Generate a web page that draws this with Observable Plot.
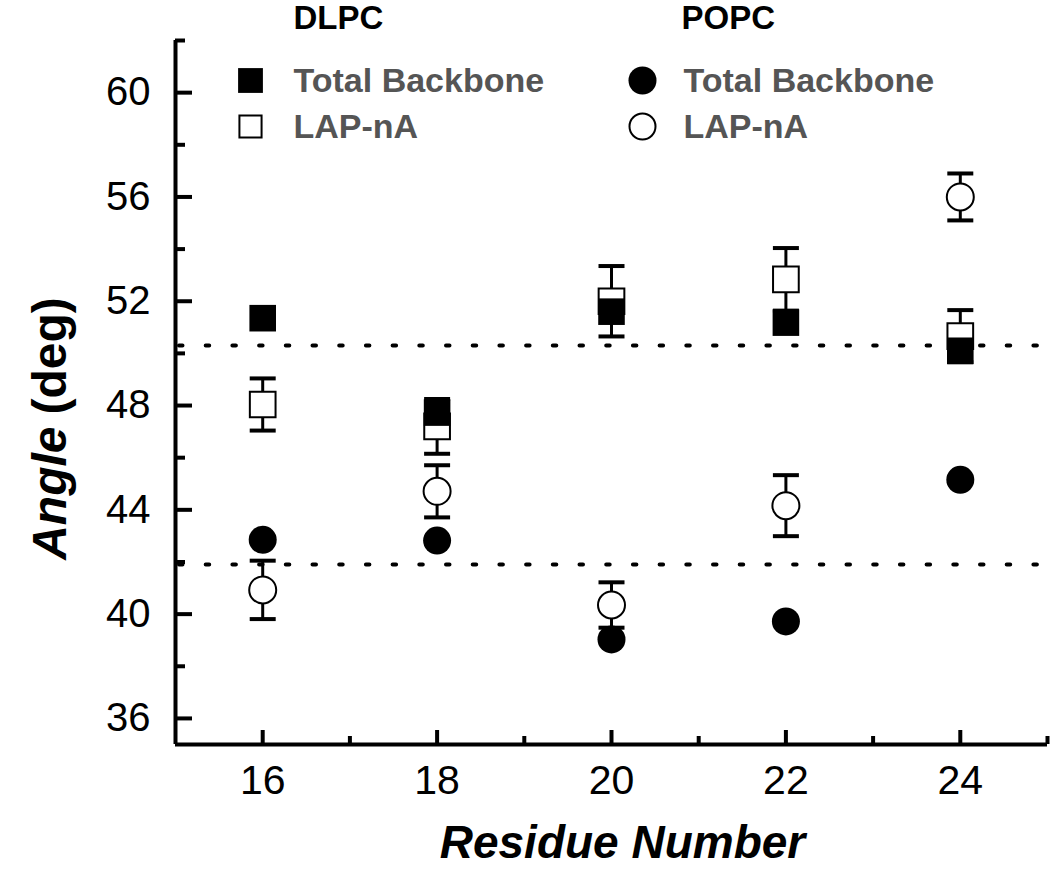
<!DOCTYPE html>
<html>
<head>
<meta charset="utf-8">
<script src="https://cdn.jsdelivr.net/npm/d3@7"></script>
<script src="https://cdn.jsdelivr.net/npm/@observablehq/plot@0.6"></script>
<style>
  html, body { margin: 0; padding: 0; background: #fff; }
  #chart { width: 1050px; height: 869px; }
</style>
</head>
<body>
<div id="chart"></div>
<script>
// ---- data ----
const residues      = [16, 18, 20, 22, 24];
const dlpcTotal     = [51.35, 47.73, 51.6, 51.18, 50.1];
const dlpcLap       = [48.04, 47.2, 52.0, 52.84, 50.66];
const dlpcLapErr    = [1.0, 1.05, 1.35, 1.2, 1.0];
const popcTotal     = [42.85, 42.82, 39.03, 39.72, 45.15];
const popcLap       = [40.93, 44.71, 40.35, 44.16, 56.0];
const popcLapErr    = [1.12, 1.0, 0.87, 1.17, 0.9];
const refLines      = [50.3, 41.9];
const yMajorTicks   = [36, 40, 44, 48, 52, 56, 60];
const yMinorTicks   = [38, 42, 46, 50, 54, 58, 62];
const xMajorTicks   = [16, 18, 20, 22, 24];
const xMinorTicks   = [17, 19, 21, 23, 25];
const xDomain       = [15, 25];
const yDomain       = [35, 62];
const groupTitles   = ["DLPC", "POPC"];
const seriesLabels  = ["Total Backbone", "LAP-nA"];

// ---- tables ----
const rows = (vals, errs) => residues.map((r, i) => ({
  x: r, y: vals[i], lo: errs ? vals[i] - errs[i] : null, hi: errs ? vals[i] + errs[i] : null
}));
const dTot = rows(dlpcTotal), dLap = rows(dlpcLap, dlpcLapErr);
const pTot = rows(popcTotal), pLap = rows(popcLap, popcLapErr);

const capSymbol = {
  draw(ctx, size) {
    const w = Math.sqrt(size / Math.PI);
    ctx.moveTo(-w, 0); ctx.lineTo(w, 0);
  }
};

const FONT = "Liberation Sans, Arial, Helvetica, sans-serif";
const errMarks = (data) => [
  Plot.ruleX(data, {x: "x", y1: "lo", y2: "hi", stroke: "black", strokeWidth: 3}),
  Plot.dot(data, {x: "x", y: "lo", symbol: capSymbol, r: 13, stroke: "black", strokeWidth: 4}),
  Plot.dot(data, {x: "x", y: "hi", symbol: capSymbol, r: 13, stroke: "black", strokeWidth: 4})
];

const legendText = (txt, dx, dy, opts = {}) => Plot.text([txt], {
  frameAnchor: "top-left", dx, dy, textAnchor: "start", lineAnchor: "middle", text: d => d,
  fontSize: 34, fontWeight: "bold", fill: "#555", ...opts
});

const chart = Plot.plot({
  width: 1050,
  height: 869,
  marginLeft: 175,
  marginRight: 3,
  marginTop: 40,
  marginBottom: 125,
  style: {fontFamily: FONT, fontSize: "40px", color: "black", background: "white", overflow: "visible"},
  x: {domain: xDomain, axis: null},
  y: {domain: yDomain, axis: null},
  marks: [
    // reference dotted lines
    Plot.ruleY(refLines, {stroke: "black", strokeWidth: 4, strokeDasharray: "3.5 23.2", strokeLinecap: "round", strokeDashoffset: -4}),
    // axes
    Plot.ruleX([xDomain[0]], {stroke: "black", strokeWidth: 4}),
    Plot.ruleY([yDomain[0]], {stroke: "black", strokeWidth: 4}),
    Plot.axisY({ticks: yMajorTicks, tickSize: -17, tickPadding: 42, strokeWidth: 4, fontSize: 40, label: null}),
    Plot.axisY({ticks: yMinorTicks, tickSize: -10, strokeWidth: 4, tickFormat: () => "", label: null}),
    Plot.axisX({ticks: xMajorTicks, tickSize: -14, tickPadding: 34, strokeWidth: 4, fontSize: 41, label: null}),
    Plot.axisX({ticks: xMinorTicks, tickSize: -8, strokeWidth: 4, tickFormat: () => "", label: null}),
    // LAP-nA (open) with error bars
    ...errMarks(dLap),
    ...errMarks(pLap),
    Plot.dot(dLap, {x: "x", y: "y", symbol: "square", r: 14.5, fill: "white", stroke: "black", strokeWidth: 2}),
    Plot.dot(pLap, {x: "x", y: "y", symbol: "circle", r: 13.5, fill: "white", stroke: "black", strokeWidth: 2}),
    // Total backbone (filled)
    Plot.dot(dTot, {x: "x", y: "y", symbol: "square", r: 15, fill: "black"}),
    Plot.dot(pTot, {x: "x", y: "y", symbol: "circle", r: 14, fill: "black"}),
    // legend
    legendText(groupTitles[0], 118, -22, {fontSize: 33, fill: "black"}),
    legendText(groupTitles[1], 506, -22, {fontSize: 33, fill: "black"}),
    Plot.dot([0], {frameAnchor: "top-left", dx: 75, dy: 40, symbol: "square", r: 14, fill: "black"}),
    Plot.dot([0], {frameAnchor: "top-left", dx: 75, dy: 86, symbol: "square", r: 12.5, fill: "white", stroke: "black", strokeWidth: 2}),
    Plot.dot([0], {frameAnchor: "top-left", dx: 467, dy: 40, symbol: "circle", r: 14, fill: "black"}),
    Plot.dot([0], {frameAnchor: "top-left", dx: 467, dy: 86, symbol: "circle", r: 13, fill: "white", stroke: "black", strokeWidth: 2}),
    legendText(seriesLabels[0], 118, 41),
    legendText(seriesLabels[1], 118, 87),
    legendText(seriesLabels[0], 508, 41),
    legendText(seriesLabels[1], 508, 87),
    // axis titles
    Plot.text(["Angle"], {frameAnchor: "top-left", dx: -125, dy: 386, rotate: -90, text: d => d,
      textAnchor: "end", lineAnchor: "middle",
      fontSize: 48, fontWeight: "bold", fontStyle: "italic", fill: "black"}),
    Plot.text(["(deg)"], {frameAnchor: "top-left", dx: -125, dy: 374, rotate: -90, text: d => d,
      textAnchor: "start", lineAnchor: "middle",
      fontSize: 48, fontWeight: "bold", fill: "black"}),
    Plot.text(["Residue Number"], {frameAnchor: "top-left", dx: 447, dy: 803, text: d => d,
      textAnchor: "middle", lineAnchor: "middle",
      fontSize: 46, fontWeight: "bold", fontStyle: "italic", fill: "black"})
  ]
});
document.getElementById("chart").appendChild(chart);
</script>
</body>
</html>
